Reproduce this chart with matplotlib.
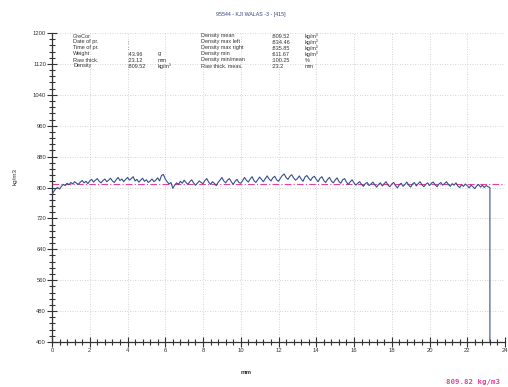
import numpy as np
import matplotlib
matplotlib.use("Agg")
import matplotlib.pyplot as plt
from matplotlib.ticker import MultipleLocator

# ---- data ----
step_mm = 0.1
density = [
    782, 790, 797, 800, 796, 803, 808, 805, 811, 807,
    813, 809, 815, 811, 808, 814, 818, 812, 816, 810,
    817, 821, 814, 819, 823, 816, 812, 818, 822, 815,
    819, 824, 817, 813, 820, 826, 818, 822, 815, 821,
    826, 819, 823, 828, 817, 821, 814, 819, 824, 816,
    820, 813, 817, 822, 815, 819, 825, 817, 831, 834,
    822, 815, 809, 813, 798, 806, 812, 808, 816, 811,
    819, 813, 808, 815, 820, 812, 806, 811, 817, 813,
    810, 818, 823, 814, 808, 815, 811, 805, 813, 819,
    826, 817, 812, 819, 823, 815, 808, 816, 821, 813,
    811, 818, 826, 819, 814, 822, 828, 818, 813, 820,
    827, 821, 815, 823, 830, 822, 817, 825, 829, 820,
    816, 824, 831, 835, 826, 821, 829, 833, 825, 819,
    823, 830, 822, 816, 827, 831, 824, 818, 826, 829,
    821, 815, 824, 828, 818, 813, 821, 826, 817, 812,
    819, 825, 816, 811, 820, 823, 814, 808, 815, 820,
    812, 806, 811, 815, 808, 803, 810, 813, 805, 809,
    814, 807, 801, 808, 812, 804, 810, 815, 806, 802,
    809, 813, 805, 799, 807, 811, 803, 808, 814, 806,
    801, 809, 813, 804, 810, 815, 807, 802, 808, 812,
    805, 811, 814, 807, 802, 809, 813, 806, 810, 815,
    808, 803, 810, 806, 812, 804, 800, 807, 803, 809,
    805, 799, 806, 802, 797, 804, 808, 801, 806, 800,
    805, 802, 800,
]
drop_value = 400
mean_density = 809.82

title = "95544 - KJI WALAS -3 - [415]"
info_left = [("GreCor", "", ""), ("Date of pr.", ":", ""), ("Time of pr.", ":", ""),
             ("Weight", ":43.96", "g"), ("Raw thick.", ":23.12", "mm"),
             ("Density", ":809.52", "kg/m\u00b3")]
info_right = [("Density mean", ":809.52", "kg/m\u00b3"),
              ("Density max left", ":834.46", "kg/m\u00b3"),
              ("Density max right", ":835.85", "kg/m\u00b3"),
              ("Density min", ":611.67", "kg/m\u00b3"),
              ("Density min/mean", ":100.25", "%"),
              ("Raw thick. meas.", ":23.2", "mm")]

pos = [round(i * step_mm, 2) for i in range(len(density))]
xs = pos + [pos[-1]]
ys = density + [drop_value]

plt.rcParams['font.family'] = ['Liberation Sans', 'DejaVu Sans']
fig = plt.figure(figsize=(5.08, 3.87), dpi=100)
ax = fig.add_axes([52/508, 1-342/387, 453/508, 309/387])

ax.plot(xs, ys, color='#34508e', lw=0.8, zorder=3)
ax.axhline(mean_density, color='#e8409a', lw=0.8, ls=(0, (6, 2, 1, 2)), zorder=2)

ax.set_xlim(0, 24)
ax.set_ylim(400, 1200)
ax.xaxis.set_major_locator(MultipleLocator(2))
ax.xaxis.set_minor_locator(MultipleLocator(0.4))
ax.yaxis.set_major_locator(MultipleLocator(80))
ax.yaxis.set_minor_locator(MultipleLocator(16))
ax.tick_params(which='major', direction='inout', length=6.5, width=0.8, labelsize=4.2,
               colors='#333333', pad=1)
ax.tick_params(which='minor', direction='inout', length=4, width=0.8, colors='#333333')
for s in ['top', 'right']:
    ax.spines[s].set_visible(False)
for s in ['left', 'bottom']:
    ax.spines[s].set_color('#333333')
    ax.spines[s].set_linewidth(0.9)
ax.grid(True, which='major', color='#c8c8c8', ls=(0, (1, 2)), lw=0.6)
ax.set_axisbelow(True)

fig.text(251/508, 1-14.5/387, title, ha='center', va='center', fontsize=3.8, color='#34467a')
fig.text(15/508, 1-176/387, "kg/m3", rotation=90, ha='center', va='center', fontsize=4.5, color='#333333')
fig.text(246/508, 1-373/387, "mm", ha='center', va='center', fontsize=4.5, color='#333333', fontweight='bold')
fig.text(500/508, 1-382/387, "809.82 kg/m3", ha='right', va='center', fontsize=5.3,
         color='#e8409a', family='DejaVu Sans Mono', fontweight='bold')

row0 = 36
for i, (a, b, c) in enumerate(info_left):
    y = 1 - (row0 + i * 6) / 387
    fig.text(73/508, y, a, fontsize=4, va='center', color='#333333')
    fig.text(127/508, y, b, fontsize=4, va='center', color='#333333')
    fig.text(158/508, y, c, fontsize=4, va='center', color='#333333')
for i, (a, b, c) in enumerate(info_right):
    y = 1 - (row0 + i * 6) / 387
    fig.text(201/508, y, a, fontsize=4, va='center', color='#333333')
    fig.text(272/508, y, b, fontsize=4, va='center', color='#333333')
    fig.text(305/508, y, c, fontsize=4, va='center', color='#333333')

fig.savefig("out.png", dpi=100)
